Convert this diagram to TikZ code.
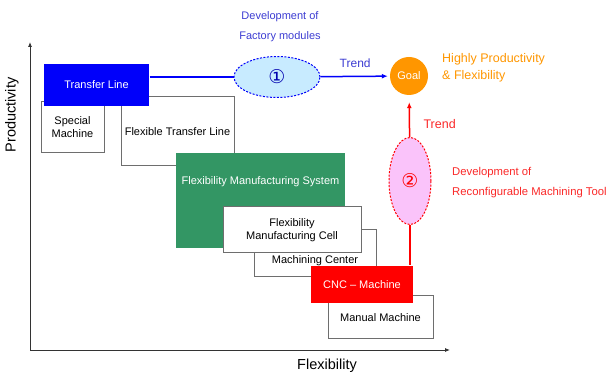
\documentclass[tikz,border=0pt]{standalone}
\usepackage{fontspec}
\setmainfont{Liberation Sans}
\newfontfamily\circfont{DejaVu Sans}
\usetikzlibrary{positioning,arrows.meta,shapes.geometric}
\definecolor{linegray}{RGB}{110,110,110}
\definecolor{tlblue}{RGB}{0,0,250}
\definecolor{txtblue}{RGB}{60,60,210}
\definecolor{fmsgreen}{RGB}{51,150,100}
\definecolor{cncred}{RGB}{255,0,0}
\definecolor{txtred}{RGB}{250,40,40}
\definecolor{goalorange}{RGB}{255,150,0}
\definecolor{modcyan}{RGB}{200,235,255}
\definecolor{rmtpink}{RGB}{250,195,250}

\begin{document}
\begin{tikzpicture}[x=1pt,y=-1pt,>={Latex[length=6pt,width=5pt]},
  box/.style={draw=linegray,line width=1pt,fill=white,inner sep=0pt,
    align=center,font=\fontsize{11}{13}\selectfont},
  solid box/.style={box,draw=none,text=white},
  axis/.style={->,>={Latex[length=5pt,width=4pt]},line width=0.8pt,black!80},
  bubble/.style={ellipse,line width=1pt,dash pattern=on 2pt off 1.5pt,inner sep=0pt},
  label txt/.style={inner sep=0pt,font=\fontsize{11}{20}\selectfont}]
\useasboundingbox (0,0) rectangle (606,374);

% axes
\coordinate (origin) at (30,350);
\coordinate (ytip) at (30,42);
\coordinate (xtip) at (450,350);
\draw[axis] (origin) -- (ytip);
\draw[axis] (origin) -- (xtip);
\node[rotate=90,font=\fontsize{14.5}{16}\selectfont] (prod) at (12,115) {Productivity};
\node[font=\fontsize{14.5}{16}\selectfont] (flex) at (327,366) {Flexibility};

% machine boxes, back to front
\node[box,minimum width=63pt,minimum height=51pt] (special) at (72.5,127) {Special\\Machine};
\node[box,minimum width=113pt,minimum height=69pt] (ftl) at (177.5,131.5) {Flexible Transfer Line};
\node[solid box,fill=tlblue,minimum width=105pt,minimum height=42pt] (tl) at (96.5,85) {Transfer Line};
\node[solid box,fill=fmsgreen,minimum width=169pt,minimum height=95pt] (fms) at (260.5,200.5) {};
\node[solid box,fill=none] (fmstxt) at (260.5,182) {Flexibility Manufacturing System};
\node[box,minimum width=122pt,minimum height=47pt] (mc) at (315,253.5) {};
\node[box,draw=none,fill=none] (mctxt) at (315,261) {Machining Center};
\node[box,minimum width=138pt,minimum height=46pt] (fmc) at (292,230) {Flexibility\\Manufacturing Cell};
\node[box,minimum width=105pt,minimum height=43pt] (manual) at (380.5,317.5) {Manual Machine};
\node[solid box,fill=cncred,minimum width=102pt,minimum height=37pt] (cnc) at (362,284.5) {CNC -- Machine};

% development bubbles and goal
\node[bubble,draw=tlblue,fill=modcyan,minimum width=86pt,minimum height=41pt,
  text=tlblue!70!black,font=\circfont\fontsize{19}{19}\selectfont] (mod) at (277,77) {①};
\node[circle,fill=goalorange,minimum size=38pt,inner sep=0pt,text=white,
  font=\fontsize{11}{12}\selectfont] (goal) at (409,76) {Goal};
\node[bubble,draw=cncred,fill=rmtpink,minimum width=42pt,minimum height=87pt,
  text=cncred,font=\circfont\fontsize{19}{19}\selectfont] (rmt) at (410,181) {②};

\draw[tlblue,line width=1.5pt] (tl.east |- mod.west) -- (mod.west);
\path[->,line width=1.5pt] (mod) edge[tlblue,shorten >=2pt] node[above=5pt,text=txtblue,font=\fontsize{12}{14}\selectfont] {Trend} (goal);
\draw[cncred,line width=1.5pt] (rmt.south) -- (rmt.south |- cnc.north);
\path[->,line width=1.5pt] (rmt) edge[cncred,shorten >=7pt] node[right=10pt,pos=0.3,text=txtred,font=\fontsize{12.5}{14}\selectfont] {Trend} (goal);

% texts
\node[label txt,text=txtblue,align=center] (modtxt) at (280,27) {Development of\\Factory modules};
\node[label txt,text=goalorange,anchor=west,align=left,font=\fontsize{12.5}{17}\selectfont] (goaltxt) at (442,67.5) {Highly Productivity\\\& Flexibility};
\node[label txt,text=txtred,anchor=west,align=left,font=\fontsize{11.3}{20}\selectfont] (rmttxt) at (452,183) {Development of\\Reconfigurable Machining Tool};
\end{tikzpicture}
\end{document}
